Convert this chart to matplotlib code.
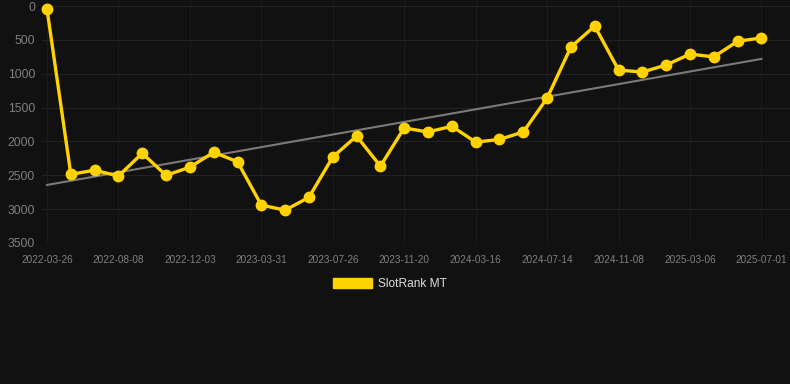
import numpy as np
import matplotlib
matplotlib.use("Agg")
import matplotlib.pyplot as plt
from matplotlib.patches import Patch

dates = ["2022-03-26", "2022-04-30", "2022-06-04", "2022-08-08", "2022-09-07",
         "2022-10-12", "2022-12-03", "2023-01-10", "2023-02-20", "2023-03-31",
         "2023-05-05", "2023-06-15", "2023-07-26", "2023-08-30", "2023-10-10",
         "2023-11-20", "2023-12-25", "2024-02-05", "2024-03-16", "2024-04-20",
         "2024-06-01", "2024-07-14", "2024-08-20", "2024-09-30", "2024-11-08",
         "2024-12-15", "2025-01-25", "2025-03-06", "2025-04-15", "2025-05-25",
         "2025-07-01"]
rank = [45, 2485, 2425, 2510, 2175, 2500, 2380, 2160, 2300, 2940,
        3015, 2825, 2230, 1920, 2365, 1800, 1860, 1775, 2010, 1970,
        1860, 1360, 605, 295, 945, 975, 870, 710, 750, 520, 470]
series_name = "SlotRank MT"

bg = "#111111"
yellow = "#FFD200"

plt.rcParams['font.family'] = ['Liberation Sans', 'DejaVu Sans']

fig = plt.figure(figsize=(7.9, 3.84), dpi=100, facecolor=bg)
ax = fig.add_axes([42 / 790, 1 - 243 / 384, 1 - 42 / 790, 243 / 384])
ax.set_facecolor(bg)

x = np.arange(len(rank))
ax.plot(x, rank, color=yellow, lw=2.4, marker="o", ms=7.5, zorder=3, clip_on=False)

# linear trend over the series
k, b = np.polyfit(x, rank, 1)
ax.plot([x[0], x[-1]], [k * x[0] + b, k * x[-1] + b], color="#7a7a7a", lw=1.5, zorder=2)

ax.set_ylim(3500, -90)
ax.set_xlim(-0.21, 31.2)
ax.set_yticks(np.arange(0, 3501, 500))
ax.set_xticks(x[::3])
ax.set_xticklabels(dates[::3])

ax.grid(True, axis="y", color="#222222", lw=0.8)
ax.grid(True, axis="x", color="#1b1b1b", lw=0.8)
ax.set_axisbelow(True)
for s in ax.spines.values():
    s.set_visible(False)
ax.tick_params(axis="y", length=0, pad=5, labelsize=8.7, labelcolor="#808080")
ax.tick_params(axis="x", length=0, pad=8.5, labelsize=7.2, labelcolor="#808080")

fig.legend(handles=[Patch(color=yellow, label=series_name)],
           loc="center", bbox_to_anchor=(390 / 790, 1 - 284 / 384),
           frameon=False, fontsize=8.6, labelcolor="#dddddd",
           handlelength=3.3, handleheight=1.0, handletextpad=0.5)

fig.savefig("out.png", dpi=100, facecolor=bg)
